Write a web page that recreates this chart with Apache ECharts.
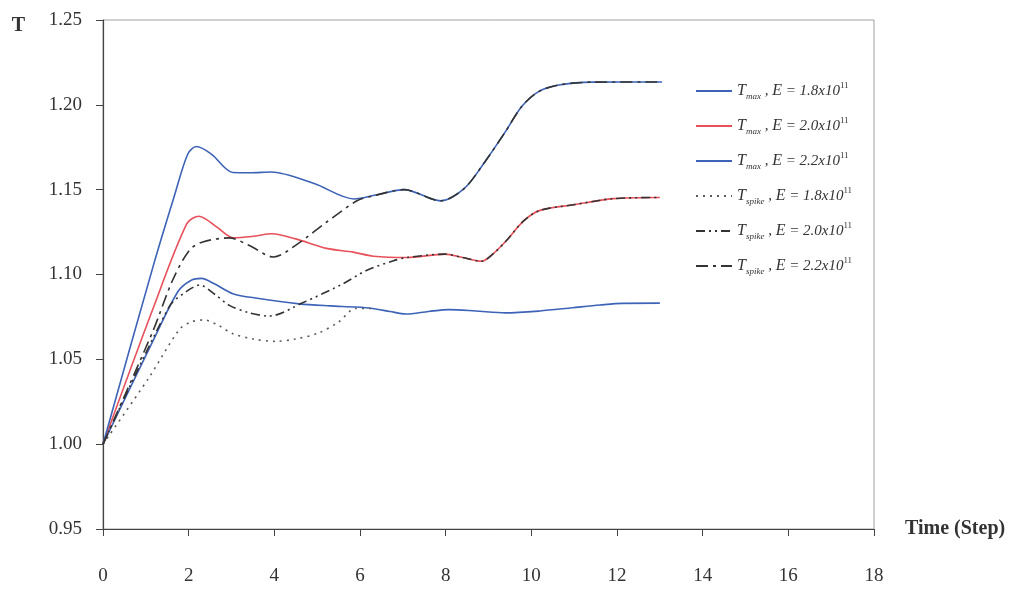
<!DOCTYPE html>
<html><head><meta charset="utf-8">
<script src="https://cdn.jsdelivr.net/npm/echarts@6/dist/echarts.min.js"></script>
<style>html,body{margin:0;padding:0;background:#fff}#c{width:1018px;height:595px}</style>
</head><body><div id="c"></div>
<script>
// ---- data ----
const xTickLabels = ['0','2','4','6','8','10','12','14','16','18'];
const yTickLabels = ['0.95','1.00','1.05','1.10','1.15','1.20','1.25'];

// T_max, E = 1.8x10^11
const tmax18X = [0, 1.15, 1.75, 2.05, 2.3, 2.6, 3.03, 3.6, 4.58, 5.3, 5.9, 6.29, 6.7, 7.07, 7.6, 8.08, 8.7, 9.4, 10.2, 10.96, 11.6, 12.13, 13.0];
const tmax18Y = [1.000, 1.060, 1.090, 1.0965, 1.0977, 1.0945, 1.0887, 1.0860, 1.0827, 1.0815, 1.0808, 1.0800, 1.0782, 1.0767, 1.0782, 1.0793, 1.0785, 1.0774, 1.0785, 1.0804, 1.0820, 1.0830, 1.0831];
// T_max, E = 2.0x10^11
const tmax20X = [0, 1.16, 1.96, 2.24, 2.66, 3.05, 3.5, 3.94, 4.5, 5.22, 5.84, 6.31, 7.09, 7.98, 8.4, 8.84, 9.1, 9.42, 9.82, 10.2, 10.98, 11.91, 13.0];
const tmax20Y = [1.000, 1.0794, 1.1301, 1.1343, 1.1279, 1.1216, 1.1225, 1.1240, 1.1210, 1.1154, 1.1132, 1.1108, 1.1100, 1.1120, 1.1100, 1.1078, 1.1120, 1.1200, 1.1316, 1.1378, 1.1411, 1.1447, 1.1454];
// T_max, E = 2.2x10^11
const tmax22X = [0, 1.17, 1.66, 1.98, 2.18, 2.53, 3.03, 3.45, 3.92, 4.93, 5.86, 6.4, 7.03, 7.88, 8.43, 8.91, 9.38, 9.78, 10.17, 10.64, 11.42, 13.05];
const tmax22Y = [1.000, 1.1048, 1.1458, 1.1710, 1.1754, 1.1710, 1.1601, 1.1600, 1.1604, 1.1536, 1.1445, 1.1470, 1.1500, 1.1434, 1.1506, 1.1662, 1.1836, 1.1991, 1.2078, 1.2117, 1.2134, 1.2135];
// T_spike, E = 1.8x10^11
const tspk18X = [0, 1.06, 1.78, 2.05, 2.36, 2.7, 3.02, 3.5, 4.03, 4.5, 5.03, 5.5, 5.9, 6.3];
const tspk18Y = [1.000, 1.0387, 1.0675, 1.0720, 1.0732, 1.0700, 1.0652, 1.0620, 1.0606, 1.0620, 1.0655, 1.0720, 1.0800, 1.0800];
// T_spike, E = 2.0x10^11
const tspk20X = [0, 1.55, 1.95, 2.26, 2.6, 2.95, 3.4, 3.88, 4.66, 5.6, 6.15, 6.78, 7.09, 7.98, 8.4, 8.84, 9.1, 9.42, 9.82, 10.2, 10.98, 11.91, 13.0];
const tspk20Y = [1.000, 1.0812, 1.0900, 1.0938, 1.0885, 1.0818, 1.0775, 1.0755, 1.0833, 1.0945, 1.1024, 1.1081, 1.1100, 1.1120, 1.1100, 1.1078, 1.1120, 1.1200, 1.1316, 1.1378, 1.1411, 1.1447, 1.1454];
// T_spike, E = 2.2x10^11
const tspk22X = [0, 1.15, 1.63, 2.02, 2.33, 2.95, 3.43, 3.98, 4.52, 5.23, 5.94, 6.25, 7.03, 7.88, 8.43, 8.91, 9.38, 9.78, 10.17, 10.64, 11.42, 13.05];
const tspk22Y = [1.000, 1.0657, 1.0969, 1.1144, 1.1192, 1.1216, 1.1169, 1.1103, 1.1176, 1.1311, 1.1436, 1.1460, 1.1500, 1.1434, 1.1506, 1.1662, 1.1836, 1.1991, 1.2078, 1.2117, 1.2134, 1.2135];

const seriesNames = ['Tmax, E=1.8x10^11','Tmax, E=2.0x10^11','Tmax, E=2.2x10^11','Tspike, E=1.8x10^11','Tspike, E=2.0x10^11','Tspike, E=2.2x10^11'];
const legendSubs = ['max','max','max','spike','spike','spike'];
const legendE = ['1.8','2.0','2.2','1.8','2.0','2.2'];

// ---- chart ----
const pair = (xs, ys) => xs.map((x, i) => [x, ys[i]]);
const FONT = "'Liberation Serif', 'DejaVu Serif', serif";
const BLUE = '#3d63b8', RED = '#e8505a', DARK = '#333333', GRAY = '#5a5a5a';

const styles = [
  {color: BLUE, type: 'solid', w: 1.6},
  {color: RED, type: 'solid', w: 1.6},
  {color: BLUE, type: 'solid', w: 1.6},
  {color: GRAY, type: [2, 5], w: 1.6},
  {color: DARK, type: [9, 4, 2, 4, 2, 4], w: 1.6},
  {color: DARK, type: [12, 5, 3, 5], w: 1.6}
];
const dataSets = [pair(tmax18X, tmax18Y), pair(tmax20X, tmax20Y), pair(tmax22X, tmax22Y),
                  pair(tspk18X, tspk18Y), pair(tspk20X, tspk20Y), pair(tspk22X, tspk22Y)];

const chart = echarts.init(document.getElementById('c'), null, {renderer: 'canvas'});
chart.setOption({
  backgroundColor: '#ffffff',
  animation: false,
  grid: {left: 103, right: 144, top: 20, bottom: 66, show: true, borderColor: '#a0a0a0', borderWidth: 1},
  legend: {
    orient: 'vertical', left: 690, top: 76, itemWidth: 36, itemHeight: 12, itemGap: 15,
    data: seriesNames,
    itemStyle: {opacity: 0},
    formatter: function (name) {
      const k = seriesNames.indexOf(name);
      return '{i|T}{sub|' + legendSubs[k] + '}{n| , }{i|E}{n| = ' + legendE[k] + 'x10}{sup|11}';
    },
    textStyle: {
      fontFamily: FONT, fontSize: 15, color: '#333',
      rich: {
        i: {fontFamily: FONT, fontStyle: 'italic', fontSize: 16, lineHeight: 20, color: '#333'},
        n: {fontFamily: FONT, fontStyle: 'italic', fontSize: 15, lineHeight: 20, color: '#333'},
        sub: {fontFamily: FONT, fontStyle: 'italic', fontSize: 9, lineHeight: 9, verticalAlign: 'bottom', color: '#333'},
        sup: {fontFamily: FONT, fontSize: 9, lineHeight: 9, verticalAlign: 'top', color: '#333'}
      }
    }
  },
  xAxis: {
    type: 'value', min: 0, max: 18, interval: 2,
    name: 'Time (Step)', nameLocation: 'end', nameGap: 31,
    nameTextStyle: {fontFamily: FONT, fontWeight: 'bold', fontSize: 20, color: '#333', verticalAlign: 'middle', padding: [0, 0, 22, 0]},
    axisLine: {lineStyle: {color: '#444', width: 1.2}},
    axisTick: {show: true, inside: false, length: 7, lineStyle: {color: '#444'}},
    axisLabel: {margin: 38, fontFamily: FONT, fontSize: 19, color: '#333',
      formatter: v => xTickLabels[Math.round(v / 2)]},
    splitLine: {show: false}
  },
  yAxis: {
    type: 'value', min: 0.95, max: 1.25, interval: 0.05,
    name: 'T', nameLocation: 'end', nameGap: -6,
    nameTextStyle: {fontFamily: FONT, fontWeight: 'bold', fontSize: 20, color: '#333', align: 'right', verticalAlign: 'middle', padding: [0, 78, 0, 0]},
    axisLine: {lineStyle: {color: '#444', width: 1.2}},
    axisTick: {show: true, inside: false, length: 7, lineStyle: {color: '#444'}},
    axisLabel: {margin: 21, fontFamily: FONT, fontSize: 19, color: '#333',
      formatter: v => yTickLabels[Math.round((v - 0.95) / 0.05)]},
    splitLine: {show: false}
  },
  series: seriesNames.map((n, k) => ({
    name: n, type: 'line', data: dataSets[k], smooth: 0.3, showSymbol: false, symbol: 'none',
    lineStyle: {color: styles[k].color, type: styles[k].type, width: styles[k].w},
    itemStyle: {color: styles[k].color},
    z: k >= 3 ? 3 : 2
  }))
});
</script></body></html>
